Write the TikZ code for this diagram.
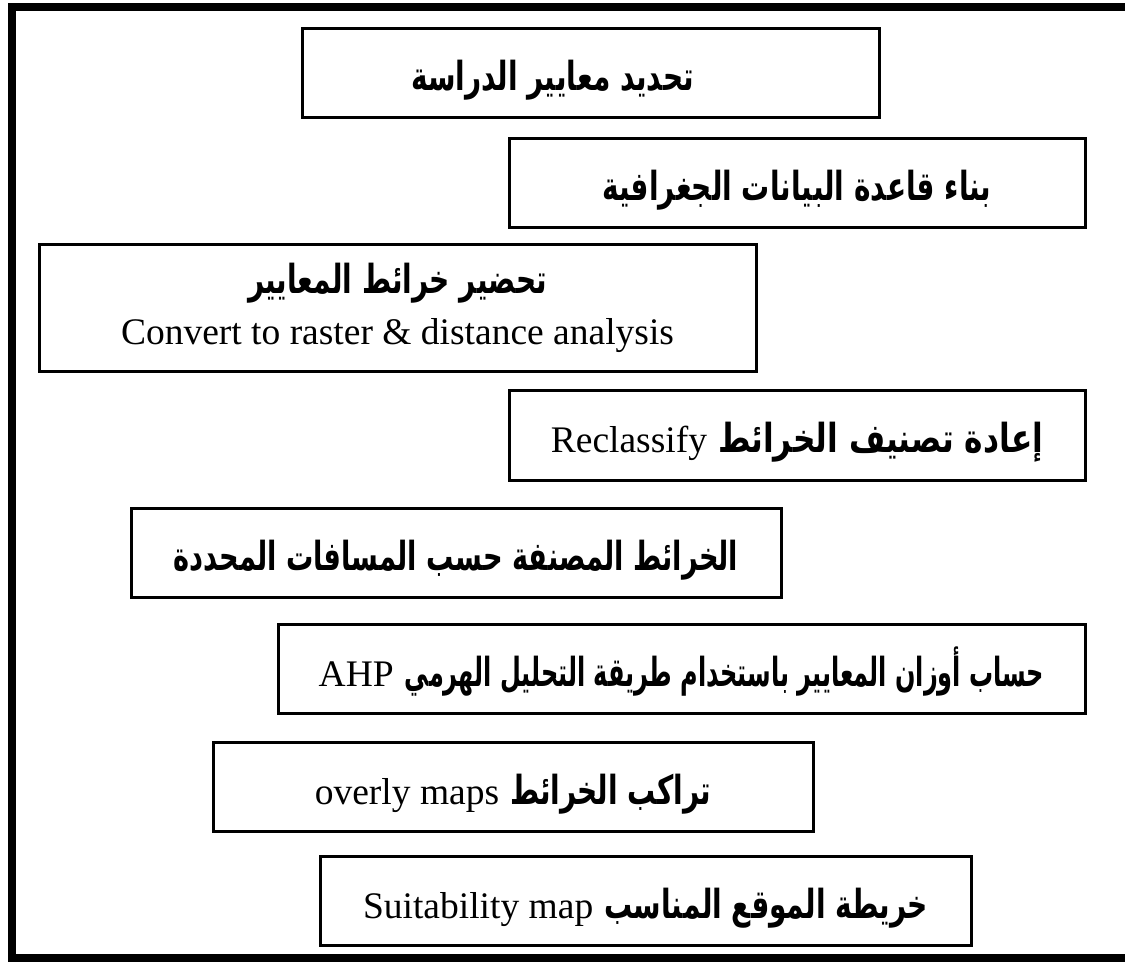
\documentclass[tikz,border=0pt]{standalone}
\usepackage{graphicx}
\usepackage{fontspec}
\setmainfont{Liberation Serif}
\newfontfamily\arabicfont[Script=Arabic]{DejaVu Sans}
\TeXXeTstate=1

% bold Arabic, condensed (optional horizontal factor); Latin in a Times-like serif
\newcommand{\ar}[2][0.70]{\scalebox{#1}[1]{\arabicfont\bfseries\fontsize{40}{46}\selectfont\beginR #2\endR}}
\newcommand{\lt}[1]{{\fontsize{37.5}{42}\selectfont #1}}
\newcommand{\gap}{\hspace{11pt}}

\tikzset{
  stepbox/.style={draw, line width=3pt, minimum height=89pt, inner sep=0pt},
  oneline/.style={stepbox, text height=40pt, text depth=5pt},
  frame/.style={line width=8pt},
}

\begin{document}
\begin{tikzpicture}[x=1pt,y=-1pt]
\useasboundingbox (0,0) rectangle (1125,964);
% outer frame
\draw[frame] (12,7) -- (1140,7) -- (1140,958) -- (12,958) -- cycle;

% workflow steps
\node[oneline, minimum width=577pt] (s1) at (590.5,72.5)
  {\ar{تحديد معايير الدراسة}\rule{76pt}{0pt}};
\node[oneline, minimum width=576pt] (s2) at (797,183)
  {\ar{بناء قاعدة البيانات الجغرافية}};
\node[stepbox, align=center, minimum width=717pt, minimum height=127pt] (s3) at (397.5,307.5)
  {\rule{0pt}{6pt}\ar{تحضير خرائط المعايير}\\[14pt]\lt{Convert to raster \& distance analysis}};
\node[oneline, minimum width=576pt, minimum height=90pt] (s4) at (797,435)
  {\lt{Reclassify}\gap\ar[0.78]{إعادة تصنيف الخرائط}};
\node[oneline, minimum width=650pt] (s5) at (456,552.5)
  {\ar[0.68]{الخرائط المصنفة حسب المسافات المحددة}};
\node[oneline, minimum width=807pt] (s6) at (681.5,668.5)
  {\lt{AHP}\gap\ar[0.60]{حساب أوزان المعايير باستخدام طريقة التحليل الهرمي}};
\node[oneline, minimum width=600pt] (s7) at (513,786.5)
  {\lt{overly maps}\gap\ar{تراكب الخرائط}};
\node[oneline, minimum width=651pt] (s8) at (645.5,900.5)
  {\lt{Suitability map}\gap\ar{خريطة الموقع المناسب}};
\end{tikzpicture}
\end{document}
